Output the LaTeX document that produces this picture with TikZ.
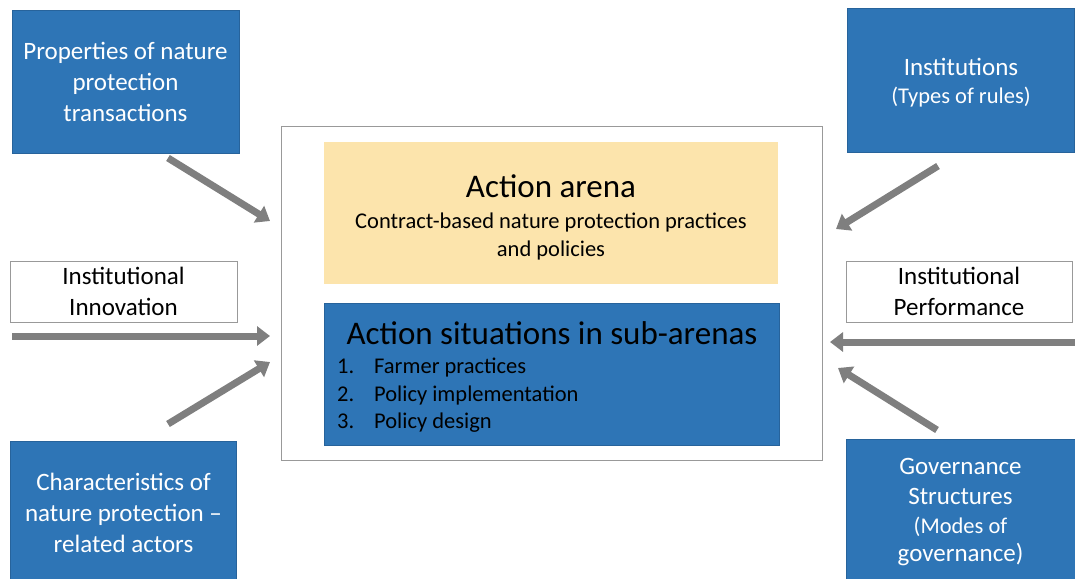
\documentclass[tikz,border=0pt]{standalone}
\usepackage{fontspec}
\setmainfont{Carlito}
\usetikzlibrary{arrows.meta}

\definecolor{boxblue}{HTML}{2E75B6}
\definecolor{arenaorange}{HTML}{FCE4AC}
\definecolor{arrowgrey}{HTML}{7F7F7F}

\tikzset{
	bluebox/.style={fill=boxblue, draw=boxblue!85!black, line width=0.8pt, text=white, align=center, inner sep=0pt},
	whitebox/.style={draw=gray!80, fill=white, line width=0.8pt, align=center, inner sep=0pt},
	fatarrow/.style={draw=arrowgrey, line width=7pt, -{Triangle[length=13pt,width=19pt]}}
}
\newcommand{\bigtxt}{\fontsize{25}{31}\selectfont}
\newcommand{\smalltxt}{\fontsize{22.5}{28}\selectfont}
\newcommand{\titletxt}{\fontsize{33}{36}\selectfont}

\begin{document}
\begin{tikzpicture}[x=1pt, y=-1pt]
	\useasboundingbox (0,0) rectangle (1075,578);

	% centre: action arena
	\node [draw=gray!80, line width=1pt, minimum width=541pt, minimum height=334pt] (frame) at (551.5,293) {};
	\node [fill=arenaorange, minimum width=454pt, minimum height=142pt, inner sep=0pt] (arena) at (551,213) {};
	\node [font=\titletxt, inner sep=0pt, anchor=base] (arenatitle) at (551,197) {Action arena};
	\node [font=\smalltxt, inner sep=0pt, align=center, anchor=north] (arenasub) at (551,213)
		{Contract-based nature protection practices\\and policies};
	\node [bluebox, minimum width=455pt, minimum height=142pt] (sitbox) at (551.5,374) {};
	\node [font=\titletxt, inner sep=0pt, anchor=base] (sittitle) at (552,344) {Action situations in sub-arenas};
	\foreach \i/\t [count=\k] in {1/Farmer practices, 2/Policy implementation, 3/Policy design} {
		\node [anchor=base west, inner sep=0pt, font=\smalltxt] (num\k) at (337,{346+27.5*\k}) {\i.};
		\node [anchor=base west, inner sep=0pt, font=\smalltxt] (item\k) at (374,{346+27.5*\k}) {\t};
	}

	% outer boxes
	\node [bluebox, minimum width=227pt, minimum height=143pt, font=\bigtxt] (props) at (125.5,81.5)
		{Properties of nature\\protection\\transactions};
	\node [bluebox, minimum width=227pt, minimum height=144pt] (inst) at (960.5,80) {};
	\node [text=white, align=center, inner sep=0pt, font=\bigtxt] (insttxt) at (961,83)
		{Institutions\\[-3pt]\smalltxt (Types of rules)};
	\node [whitebox, minimum width=227pt, minimum height=61pt, font=\bigtxt] (innov) at (123.5,291.5)
		{Institutional\\Innovation};
	\node [whitebox, minimum width=226pt, minimum height=61pt, font=\bigtxt] (perf) at (959,291.5)
		{Institutional\\Performance};
	\node [bluebox, minimum width=226pt, minimum height=144pt, font=\bigtxt] (actors) at (123.5,513)
		{Characteristics of\\nature protection --\\related actors};
	\node [bluebox, minimum width=229pt, minimum height=145pt, font=\bigtxt] (gov) at (960.5,512)
		{Governance\\[-1pt]Structures\\[-2pt]\smalltxt (Modes of\\[-3pt]governance)};

	% arrows into the arena
	\coordinate (propsout) at (168,158);
	\coordinate (propsin) at (270,221);
	\coordinate (instout) at (938,166);
	\coordinate (instin) at (836,229);
	\coordinate (innovout) at (12,336);
	\coordinate (innovin) at (270,336);
	\coordinate (perfout) at (1075,342);
	\coordinate (perfin) at (830,342);
	\coordinate (actorsout) at (168,424);
	\coordinate (actorsin) at (270,362);
	\coordinate (govout) at (937,430);
	\coordinate (govin) at (838,368);
	\draw [fatarrow] (propsout) -- (propsin);
	\draw [fatarrow] (instout) -- (instin);
	\draw [fatarrow] (innovout) -- (innovin);
	\draw [fatarrow] (perfout) -- (perfin);
	\draw [fatarrow] (actorsout) -- (actorsin);
	\draw [fatarrow] (govout) -- (govin);
\end{tikzpicture}
\end{document}
